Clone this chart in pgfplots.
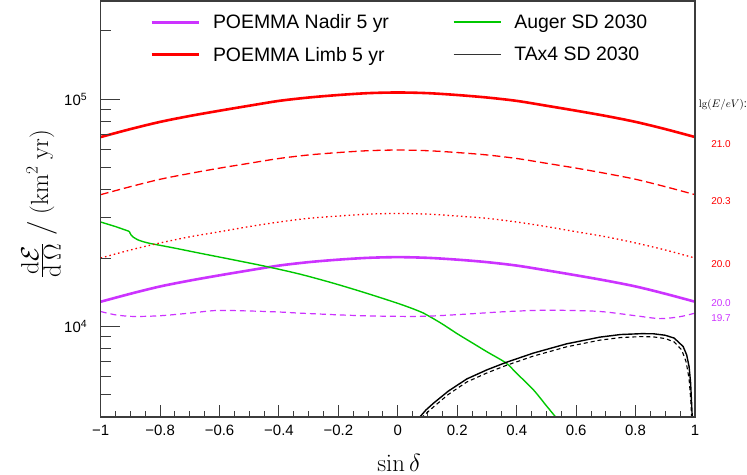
\documentclass[border=0pt]{standalone}
\usepackage{amsmath}
\usepackage{pgfplots}
\pgfplotsset{compat=1.18}
\usepackage[no-math]{fontspec}
\setmainfont{Liberation Sans}
\definecolor{mag}{RGB}{204,51,255}
\definecolor{grn}{RGB}{0,200,0}
\definecolor{frm}{RGB}{60,60,60}
\begin{document}
\begin{tikzpicture}
\path[use as bounding box] (-100.7bp,-58bp) rectangle (646.3bp,417bp);
\begin{axis}[
  at={(0,0)}, anchor=south west,
  scale only axis, width=594.3bp, height=416bp,
  xmin=-1, xmax=1, ymin=4000, ymax=270000, ymode=log,
  clip mode=individual,
  axis line style={frm, line width=1.1bp},
  tick style={frm, line width=1bp},
  tick align=inside, tick pos=left,
  major tick length=12bp, minor tick length=6bp,
  ytick=\empty,
  xtick={-1,-0.8,-0.6,-0.4,-0.2,0,0.2,0.4,0.6,0.8,1},
  xticklabels={−1,−0.8,−0.6,−0.4,−0.2,0,0.2,0.4,0.6,0.8,1},
  minor xtick={-0.95,-0.9,-0.85,-0.75,-0.7,-0.65,-0.55,-0.5,-0.45,-0.35,-0.3,-0.25,-0.15,-0.1,-0.05,0.05,0.1,0.15,0.25,0.3,0.35,0.45,0.5,0.55,0.65,0.7,0.75,0.85,0.9,0.95},
  xticklabel style={font=\fontsize{15}{18}\selectfont, yshift=-5bp},
  xlabel={$\sin\delta$},
  every axis x label/.style={at={(axis description cs:0.502,0)}, anchor=base, yshift=-54.2bp, font=\fontsize{24}{28}\selectfont},
  ylabel={$\frac{\textstyle\mathrm{d}\mathcal{E}}{\textstyle\mathrm{d}\,\Omega}\;\big/\;(\mathrm{km}^2\ \mathrm{yr})$},
  every axis y label/.style={at={(axis description cs:-0.1005,0.512)}, rotate=90, anchor=center, font=\fontsize{25}{30}\selectfont},
  legend columns=2,
  legend cell align=left,
  legend image code/.code={\draw[#1] (0bp,0bp) -- (47bp,0bp); \path (58bp,0bp);},
  legend style={draw=none, fill=none, inner sep=0pt, at={(rel axis cs:0.083,0.973)}, anchor=north west,
    row sep=13bp,
    font=\fontsize{19.5}{23}\selectfont, /tikz/every even column/.append style={column sep=62bp}},
]
\addlegendimage{mag, line width=2.8bp}
\addlegendentry{POEMMA Nadir 5 yr}
\addlegendimage{grn, line width=1.4bp}
\addlegendentry{Auger SD 2030}
\addlegendimage{red, line width=2.8bp}
\addlegendentry{POEMMA Limb 5 yr}
\addlegendimage{black!80, line width=1.4bp}
\addlegendentry{TAx4 SD 2030}
\addplot[mag, line width=2.6bp, smooth, forget plot] coordinates {
(-1,12850) (-0.9,13930) (-0.8,15000) (-0.7,15920) (-0.6,16790) (-0.5,17660) (-0.4,18530) (-0.3,19190) (-0.2,19680) (-0.1,20040) (0,20180)
(0.1,20040) (0.2,19680) (0.3,19190) (0.4,18530) (0.5,17660) (0.6,16790) (0.7,15920) (0.8,15000) (0.9,13930) (1,12850)};
\addplot[grn, line width=1.4bp, forget plot] coordinates {
(-1,28800) (-0.95,27500) (-0.904,26200)};
\addplot[grn, line width=1.4bp, smooth, tension=0.5, forget plot] coordinates {
(-0.904,26200) (-0.898,25300) (-0.89,24700) (-0.875,24050) (-0.857,23600) (-0.835,23200) (-0.812,22900)
(-0.75,22100) (-0.666,21000) (-0.554,19650) (-0.442,18350) (-0.33,17000) (-0.217,15500) (-0.105,14000) (0.007,12550) (0.074,11640)
(0.103,11140) (0.15,10250) (0.2,9290) (0.25,8480) (0.3,7740) (0.364,6910) (0.4,6220) (0.456,5270) (0.5,4480) (0.531,4000) (0.545,3800)};
\addplot[red, line width=2.6bp, smooth, forget plot] coordinates {
(-1,68100) (-0.9,73800) (-0.8,79400) (-0.7,84300) (-0.6,88900) (-0.5,93500) (-0.4,98200) (-0.3,101600) (-0.2,104200) (-0.1,106200) (0,106900)
(0.1,106200) (0.2,104200) (0.3,101600) (0.4,98200) (0.5,93500) (0.6,88900) (0.7,84300) (0.8,79400) (0.9,73800) (1,68100)};
\addplot[black, line width=1.4bp, forget plot] coordinates {
(0.07,3950) (0.074,4000) (0.095,4300) (0.12,4600) (0.17,5200) (0.232,5880) (0.3,6450) (0.364,6950) (0.456,7640) (0.568,8390) (0.68,8980)
(0.75,9220) (0.82,9300) (0.86,9290) (0.9,9150) (0.93,8890) (0.96,8170) (0.972,7500) (0.98,6670) (0.985,5700) (0.988,4770) (0.991,3900)};
\addplot[black, line width=1.1bp, dash pattern=on 4bp off 3bp, forget plot] coordinates {
(0.078,3950) (0.1,4200) (0.12,4430) (0.17,5030) (0.232,5700) (0.3,6250) (0.364,6740) (0.456,7410) (0.568,8140) (0.68,8710)
(0.75,8940) (0.82,9030) (0.86,9000) (0.9,8850) (0.93,8550) (0.955,7900) (0.97,7000) (0.98,5900) (0.986,4700) (0.989,3900)};
\addplot[red, line width=1.3bp, dash pattern=on 8bp off 4bp, smooth, forget plot] coordinates {
(-1,38000) (-0.9,41200) (-0.8,44400) (-0.7,47100) (-0.6,49700) (-0.5,52200) (-0.4,54800) (-0.3,56800) (-0.2,58200) (-0.1,59300) (0,59700)
(0.1,59300) (0.2,58200) (0.3,56800) (0.4,54800) (0.5,52200) (0.6,49700) (0.7,47100) (0.8,44400) (0.9,41200) (1,38000)};
\addplot[red, line width=1.3bp, dash pattern=on 1.5bp off 3bp, smooth, forget plot] coordinates {
(-1,20000) (-0.9,21700) (-0.8,23300) (-0.7,24800) (-0.6,26100) (-0.5,27500) (-0.4,28800) (-0.3,29900) (-0.2,30600) (-0.1,31200) (0,31400)
(0.1,31200) (0.2,30600) (0.3,29900) (0.4,28800) (0.5,27500) (0.6,26100) (0.7,24800) (0.8,23300) (0.9,21700) (1,20000)};
\addplot[mag, line width=1.2bp, dash pattern=on 6bp off 4bp, smooth, forget plot] coordinates {
(-1,11640) (-0.95,11250) (-0.89,11070) (-0.8,11150) (-0.7,11450) (-0.61,11760) (-0.5,11700) (-0.4,11580) (-0.33,11450) (-0.2,11250)
(-0.105,11140) (0,11080) (0.1,11100) (0.232,11340) (0.35,11600) (0.456,11760) (0.55,11780) (0.681,11640) (0.8,11150) (0.883,10830) (0.95,11050) (1,11450)};
\node[font=\fontsize{11}{13}\selectfont] at (rel axis cs:1.047,0.75) {$\lg(E/eV)$:};
\node[font=\fontsize{10}{12}\selectfont, text=red] at (rel axis cs:1.0437,0.656) {21.0};
\node[font=\fontsize{10}{12}\selectfont, text=red] at (rel axis cs:1.0437,0.520) {20.3};
\node[font=\fontsize{10}{12}\selectfont, text=red] at (rel axis cs:1.0437,0.368) {20.0};
\node[font=\fontsize{10}{12}\selectfont, text=mag] at (rel axis cs:1.0437,0.273) {20.0};
\node[font=\fontsize{10}{12}\selectfont, text=mag] at (rel axis cs:1.0437,0.237) {19.7};
\end{axis}
\begin{axis}[
  at={(0,0)}, anchor=south west,
  scale only axis, width=594.3bp, height=416bp,
  xmin=-1, xmax=1, ymin=4000, ymax=270000, ymode=log,
  axis line style={frm, line width=1.1bp},
  tick style={frm, line width=1bp},
  tick align=inside, tick pos=left,
  major tick length=19bp, minor tick length=10bp,
  xtick=\empty,
  ytick={10000,100000},
  yticklabels={10\textsuperscript{4},10\textsuperscript{5}},
  minor ytick={5000,6000,7000,8000,9000,20000,30000,40000,50000,60000,70000,80000,90000,200000},
  yticklabel style={font=\fontsize{15}{18}\selectfont, xshift=-10bp},
]
\end{axis}
\end{tikzpicture}
\end{document}
